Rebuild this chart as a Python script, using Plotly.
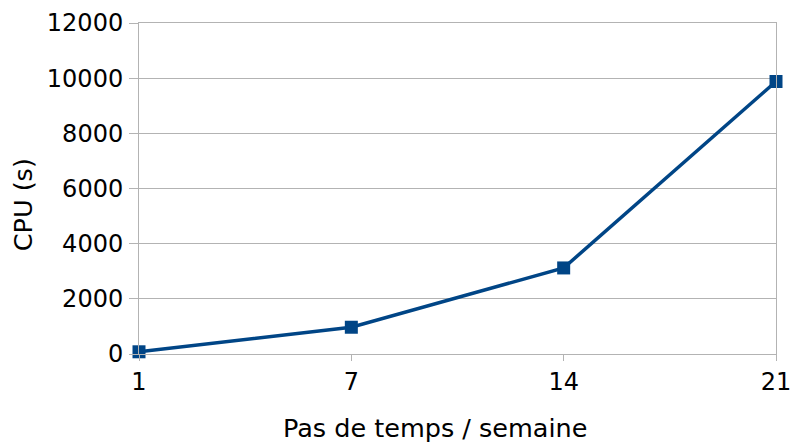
import plotly.graph_objects as go

steps = ["1", "7", "14", "21"]
cpu_seconds = [80, 970, 3120, 9880]
y_ticks = [0, 2000, 4000, 6000, 8000, 10000, 12000]
y_tick_labels = ["0", "2000", "4000", "6000", "8000", "10000", "12000"]
x_title = "Pas de temps / semaine"
y_title = "CPU (s)"

grid = "#b3b3b3"
fig = go.Figure(go.Scatter(
    x=steps, y=cpu_seconds, mode="lines+markers",
    line=dict(color="#004586", width=3.5),
    marker=dict(symbol="square", size=13, color="#004586"),
    cliponaxis=False, showlegend=False, hoverinfo="skip",
))
fig.update_layout(
    width=790, height=442,
    margin=dict(l=139, r=14, t=23, b=88, autoexpand=False),
    paper_bgcolor="white", plot_bgcolor="white",
    font=dict(family="DejaVu Sans, sans-serif", color="#000000"),
    annotations=[
        dict(text=x_title, xref="paper", yref="paper", x=0.4647, y=-0.2239,
             xanchor="center", yanchor="middle", showarrow=False,
             font=dict(size=25.5)),
        dict(text=y_title, xref="paper", yref="paper", x=-0.1821, y=0.4493,
             xanchor="center", yanchor="middle", showarrow=False,
             textangle=-90, font=dict(size=25.5)),
    ],
)
fig.update_xaxes(
    type="category", range=[0, 3], automargin=False,
    showgrid=False, showline=True, linecolor=grid, linewidth=1, mirror=True,
    ticks="outside", ticklen=6, tickcolor=grid,
    tickfont=dict(size=24),
)
fig.update_yaxes(
    range=[0, 12000], tickvals=y_ticks, ticktext=y_tick_labels, automargin=False,
    showgrid=True, gridcolor=grid, gridwidth=1,
    showline=True, linecolor=grid, linewidth=1, mirror=True,
    ticks="outside", ticklen=9, tickcolor=grid, ticklabelstandoff=1,
    tickfont=dict(size=24), zeroline=False,
)
fig.write_html(
    "out.html",
    config={"displayModeBar": False, "staticPlot": True},
    post_script="document.body.style.margin='0';document.body.style.overflow='hidden';",
)
